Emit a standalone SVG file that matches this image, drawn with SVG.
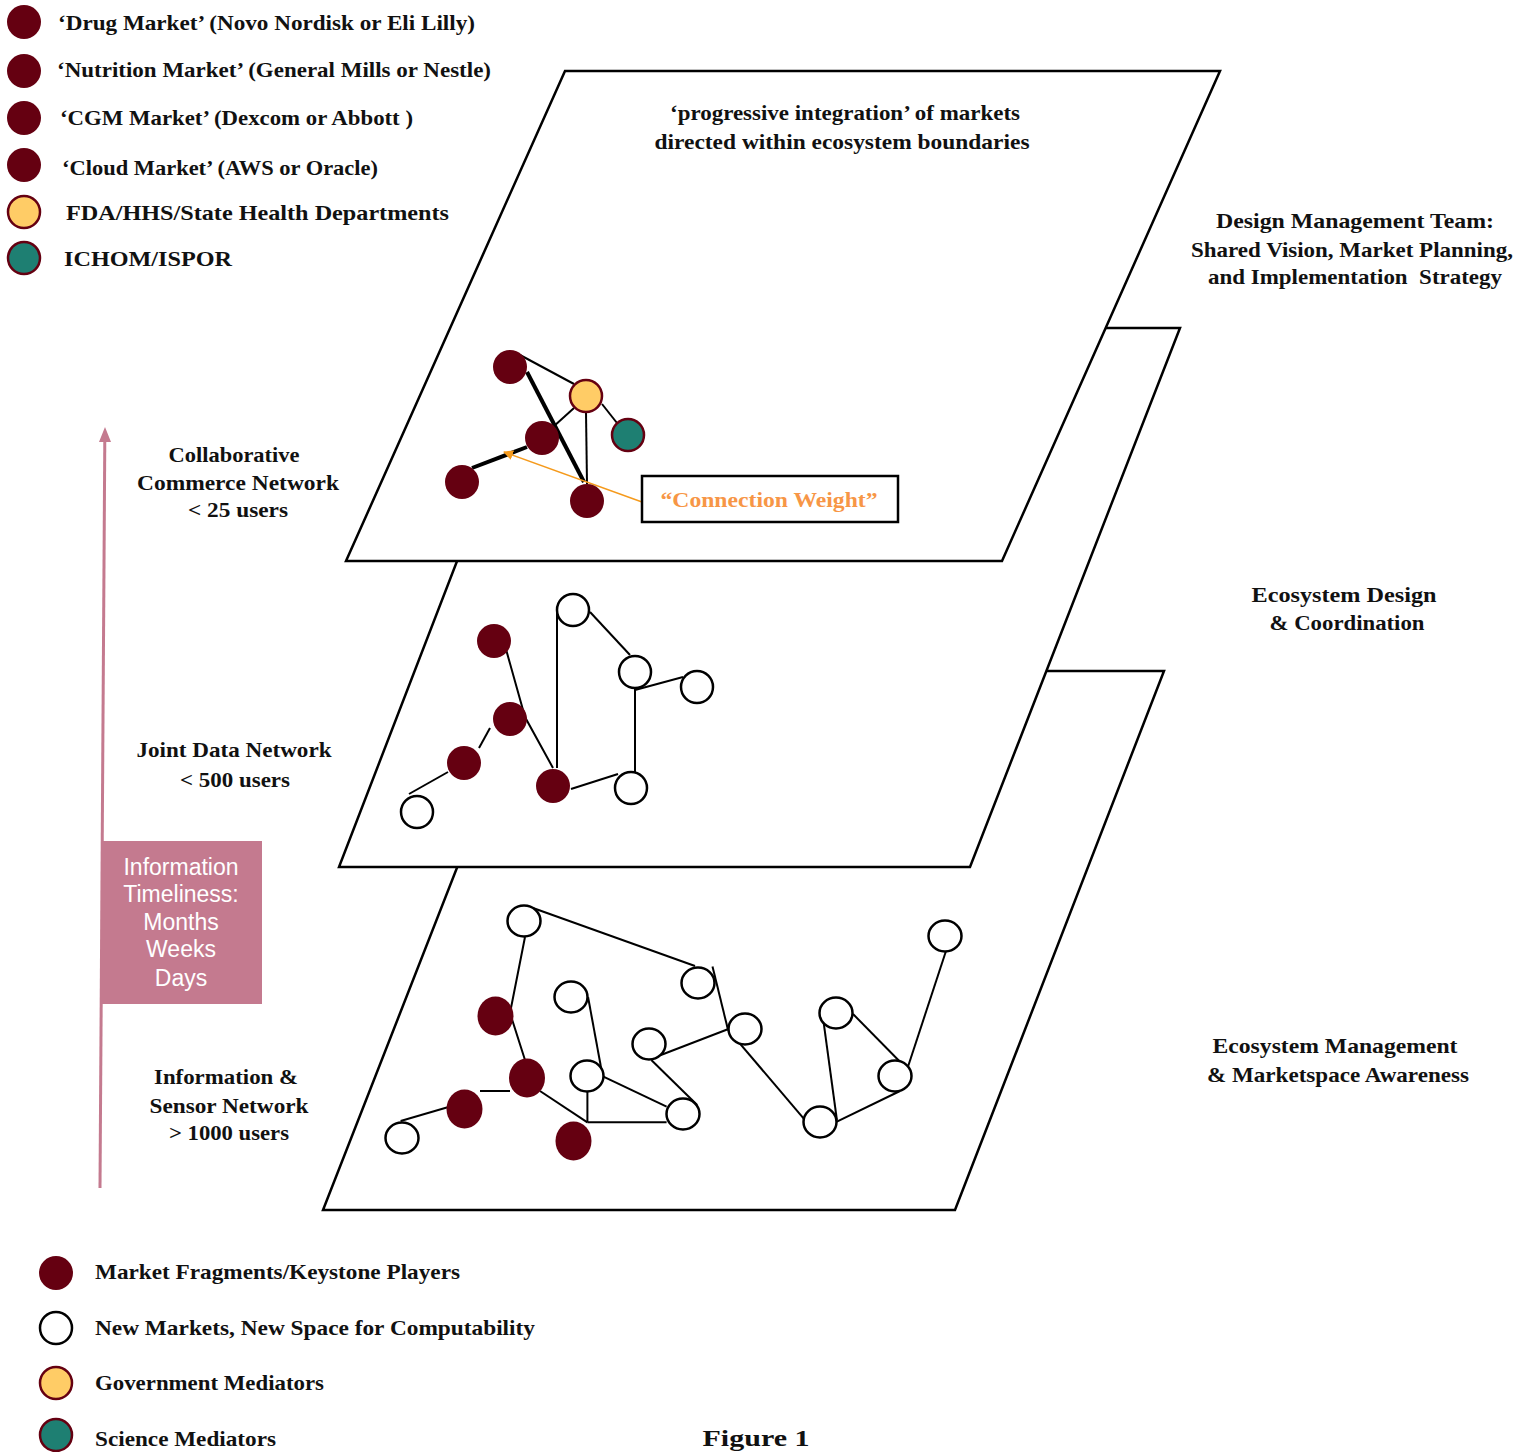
<svg xmlns="http://www.w3.org/2000/svg" width="1531" height="1452" viewBox="0 0 1531 1452">
<style>
.t{font-family:"Liberation Serif","Times New Roman",serif;font-weight:bold;font-size:21px;fill:#111}
.c{text-anchor:middle}
.plane{fill:#fff;stroke:#000;stroke-width:2.5;stroke-linejoin:miter}
.e{stroke:#000;stroke-width:2;fill:none}
.ew{stroke:#000;stroke-width:4;fill:none}
.red{fill:#650011}
.wht{fill:#fff;stroke:#000;stroke-width:2.5}
.yel{fill:#ffcc66;stroke:#650011;stroke-width:2.5}
.tea{fill:#1e7f72;stroke:#650011;stroke-width:2.5}
.pk{font-family:"Liberation Sans",Arial,sans-serif;font-size:23px;fill:#fff;text-anchor:middle}
</style>
<defs>
<marker id="oarr" markerWidth="10" markerHeight="10" refX="9" refY="5" orient="auto" markerUnits="userSpaceOnUse" viewBox="0 0 10 10">
<path d="M0,0 L10,5 L0,10 z" fill="#f59a1c"/>
</marker>
</defs>
<rect width="1531" height="1452" fill="#fff"/>

<!-- planes -->
<g id="planes">
<polygon id="plane-bottom" class="plane" points="534,671 1164,671 955,1210 323,1210"/>
<polygon id="plane-middle" class="plane" points="547,328 1180,328 970,867 339,867"/>
<polygon id="plane-top" class="plane" points="565,71 1220,71 1002,561 346,561"/>
</g>

<!-- top legend -->
<g id="legend-top">
<circle cx="24" cy="22" r="17" class="red"/>
<text class="t" x="58" y="30" textLength="417" lengthAdjust="spacingAndGlyphs">‘Drug Market’ (Novo Nordisk or Eli Lilly)</text>
<circle cx="24" cy="71" r="17" class="red"/>
<text class="t" x="57" y="77" textLength="434" lengthAdjust="spacingAndGlyphs">‘Nutrition Market’ (General Mills or Nestle)</text>
<circle cx="24" cy="118" r="17" class="red"/>
<text class="t" x="60" y="125" textLength="353" lengthAdjust="spacingAndGlyphs">‘CGM Market’ (Dexcom or Abbott )</text>
<circle cx="24" cy="165" r="17" class="red"/>
<text class="t" x="62" y="175" textLength="316" lengthAdjust="spacingAndGlyphs">‘Cloud Market’ (AWS or Oracle)</text>
<circle cx="24" cy="212" r="16" class="yel"/>
<text class="t" x="66" y="220" textLength="383" lengthAdjust="spacingAndGlyphs">FDA/HHS/State Health Departments</text>
<circle cx="24" cy="258" r="16" class="tea"/>
<text class="t" x="64" y="266" textLength="168" lengthAdjust="spacingAndGlyphs">ICHOM/ISPOR</text>
</g>

<!-- labels -->
<g id="labels">
<text class="t c" x="845" y="120" textLength="350" lengthAdjust="spacingAndGlyphs">‘progressive integration’ of markets</text>
<text class="t c" x="842" y="149" textLength="375" lengthAdjust="spacingAndGlyphs">directed within ecosystem boundaries</text>
<text class="t c" x="1355" y="228" textLength="278" lengthAdjust="spacingAndGlyphs">Design Management Team:</text>
<text class="t c" x="1352" y="257" textLength="322" lengthAdjust="spacingAndGlyphs">Shared Vision, Market Planning,</text>
<text class="t c" x="1355" y="284" textLength="294" lengthAdjust="spacingAndGlyphs" style="white-space:pre">and Implementation  Strategy</text>
<text class="t c" x="1344" y="602" textLength="185" lengthAdjust="spacingAndGlyphs">Ecosystem Design</text>
<text class="t c" x="1347" y="630" textLength="155" lengthAdjust="spacingAndGlyphs">&amp; Coordination</text>
<text class="t c" x="1335" y="1053" textLength="245" lengthAdjust="spacingAndGlyphs">Ecosystem Management</text>
<text class="t c" x="1338" y="1082" textLength="262" lengthAdjust="spacingAndGlyphs">&amp; Marketspace Awareness</text>
<text class="t c" x="234" y="462" textLength="131" lengthAdjust="spacingAndGlyphs">Collaborative</text>
<text class="t c" x="238" y="490" textLength="202" lengthAdjust="spacingAndGlyphs">Commerce Network</text>
<text class="t c" x="238" y="517" textLength="100" lengthAdjust="spacingAndGlyphs">&lt; 25 users</text>
<text class="t c" x="234" y="757" textLength="195" lengthAdjust="spacingAndGlyphs">Joint Data Network</text>
<text class="t c" x="235" y="787" textLength="110" lengthAdjust="spacingAndGlyphs">&lt; 500 users</text>
<text class="t c" x="226" y="1084" textLength="144" lengthAdjust="spacingAndGlyphs">Information &amp;</text>
<text class="t c" x="229" y="1113" textLength="159" lengthAdjust="spacingAndGlyphs">Sensor Network</text>
<text class="t c" x="229" y="1140" textLength="120" lengthAdjust="spacingAndGlyphs">&gt; 1000 users</text>
</g>

<!-- timeliness arrow and box -->
<g id="timeliness">
<line x1="100" y1="1188" x2="104.8" y2="440" stroke="#c47a8f" stroke-width="3"/>
<polygon points="105,427 111,442 99,442" fill="#c47a8f"/>
<rect x="101" y="841" width="161" height="163" fill="#c47a8f"/>
<text class="pk" x="181" y="875">Information</text>
<text class="pk" x="181" y="902">Timeliness:</text>
<text class="pk" x="181" y="930">Months</text>
<text class="pk" x="181" y="957">Weeks</text>
<text class="pk" x="181" y="986">Days</text>
</g>

<!-- connectors -->
<g id="connectors">
<!-- top -->
<line class="e" x1="520" y1="355" x2="574" y2="384"/>
<line class="ew" x1="527" y1="372" x2="584" y2="482"/>
<line class="e" x1="553" y1="427" x2="574" y2="408"/>
<line class="e" x1="586" y1="412" x2="587" y2="484"/>
<line class="e" x1="602" y1="404" x2="617" y2="423"/>
<line class="ew" x1="472" y1="468" x2="527" y2="447"/>
<line x1="642" y1="502" x2="504" y2="452" stroke="#f59a1c" stroke-width="1.5" marker-end="url(#oarr)"/>
<!-- middle -->
<polyline class="e" points="502,635 525,717 553,768"/>
<line class="e" x1="490" y1="728" x2="479" y2="748"/>
<line class="e" x1="448" y1="772" x2="409" y2="794"/>
<line class="e" x1="557" y1="610" x2="557" y2="768"/>
<line class="e" x1="590" y1="612" x2="630" y2="655"/>
<line class="e" x1="635" y1="690" x2="683" y2="677"/>
<line class="e" x1="635" y1="687" x2="635" y2="780"/>
<line class="e" x1="571" y1="789" x2="618" y2="774"/>
<!-- bottom -->
<line class="e" x1="533" y1="908" x2="695" y2="966"/>
<line class="e" x1="712.5" y1="966.5" x2="727.8" y2="1029"/>
<polyline class="e" points="525,937 510,1013 525,1060"/>
<line class="e" x1="480" y1="1091" x2="510" y2="1091"/>
<line class="e" x1="448.5" y1="1107" x2="400.6" y2="1121"/>
<line class="e" x1="540" y1="1091" x2="587.4" y2="1122.3"/>
<line class="e" x1="587.4" y1="1091.7" x2="587.4" y2="1122.3"/>
<line class="e" x1="587.4" y1="1122.3" x2="666.6" y2="1122.3"/>
<line class="e" x1="603.4" y1="1076.7" x2="666.6" y2="1106.7"/>
<line class="e" x1="588.1" y1="997.3" x2="601.5" y2="1070"/>
<line class="e" x1="651.3" y1="1060" x2="697.2" y2="1105"/>
<line class="e" x1="660.9" y1="1055" x2="727.8" y2="1029.3"/>
<line class="e" x1="727.8" y1="1029.3" x2="806.3" y2="1121.7"/>
<line class="e" x1="836.9" y1="1120" x2="822.4" y2="1013.3"/>
<line class="e" x1="853" y1="1014" x2="900" y2="1061.7"/>
<line class="e" x1="836.9" y1="1121.7" x2="900" y2="1091"/>
<line class="e" x1="946" y1="951" x2="900" y2="1091"/>
</g>

<!-- nodes: top plane -->
<g id="node-top-a"><circle cx="510" cy="367" r="17" class="red"/></g>
<g id="node-top-gov"><circle cx="586" cy="396" r="16" class="yel"/></g>
<g id="node-top-sci"><circle cx="628" cy="435" r="16" class="tea"/></g>
<g id="node-top-b"><circle cx="542" cy="438" r="17" class="red"/></g>
<g id="node-top-c"><circle cx="462" cy="482" r="17" class="red"/></g>
<g id="node-top-d"><circle cx="587" cy="501" r="17" class="red"/></g>
<g id="connection-weight">
<rect x="642" y="476" width="256" height="46" fill="#fff" stroke="#000" stroke-width="2.5"/>
<text class="t c" x="769" y="507" style="fill:#f79646" textLength="217" lengthAdjust="spacingAndGlyphs">“Connection Weight”</text>
</g>

<!-- nodes: middle plane -->
<g id="node-mid-r1"><circle cx="494" cy="641" r="17" class="red"/></g>
<g id="node-mid-r2"><circle cx="510" cy="719" r="17" class="red"/></g>
<g id="node-mid-r3"><circle cx="464" cy="763" r="17" class="red"/></g>
<g id="node-mid-r4"><circle cx="553" cy="786" r="17" class="red"/></g>
<g id="node-mid-w1"><circle cx="573" cy="610" r="16" class="wht"/></g>
<g id="node-mid-w2"><circle cx="635" cy="672" r="16" class="wht"/></g>
<g id="node-mid-w3"><circle cx="697" cy="687" r="16" class="wht"/></g>
<g id="node-mid-w4"><circle cx="631" cy="788" r="16" class="wht"/></g>
<g id="node-mid-w5"><circle cx="417" cy="812" r="16" class="wht"/></g>

<!-- nodes: bottom plane -->
<g id="node-bot-w1"><ellipse cx="524" cy="921" rx="16.5" ry="15.5" class="wht"/></g>
<g id="node-bot-w2"><ellipse cx="698" cy="983" rx="16.5" ry="15.5" class="wht"/></g>
<g id="node-bot-w3"><ellipse cx="571" cy="997" rx="16.5" ry="15.5" class="wht"/></g>
<g id="node-bot-w4"><ellipse cx="745" cy="1029" rx="16.5" ry="15.5" class="wht"/></g>
<g id="node-bot-w5"><ellipse cx="649" cy="1044" rx="16.5" ry="15.5" class="wht"/></g>
<g id="node-bot-w6"><ellipse cx="587" cy="1076" rx="16.5" ry="15.5" class="wht"/></g>
<g id="node-bot-w7"><ellipse cx="683" cy="1114" rx="16.5" ry="15.5" class="wht"/></g>
<g id="node-bot-w8"><ellipse cx="402" cy="1138" rx="16.5" ry="15.5" class="wht"/></g>
<g id="node-bot-w9"><ellipse cx="836" cy="1013" rx="16.5" ry="15.5" class="wht"/></g>
<g id="node-bot-w10"><ellipse cx="895" cy="1076" rx="16.5" ry="15.5" class="wht"/></g>
<g id="node-bot-w11"><ellipse cx="820" cy="1122" rx="16.5" ry="15.5" class="wht"/></g>
<g id="node-bot-w12"><ellipse cx="945" cy="936" rx="16.5" ry="15.5" class="wht"/></g>
<g id="node-bot-r1"><ellipse cx="495.5" cy="1016" rx="18" ry="19.5" class="red"/></g>
<g id="node-bot-r2"><ellipse cx="527" cy="1078" rx="18" ry="19.5" class="red"/></g>
<g id="node-bot-r3"><ellipse cx="464.5" cy="1109" rx="18" ry="19.5" class="red"/></g>
<g id="node-bot-r4"><ellipse cx="573.5" cy="1141" rx="18" ry="19.5" class="red"/></g>

<!-- bottom legend -->
<g id="legend-bottom">
<circle cx="56" cy="1273" r="17" class="red"/>
<text class="t" x="95" y="1279" textLength="365" lengthAdjust="spacingAndGlyphs">Market Fragments/Keystone Players</text>
<circle cx="56" cy="1328" r="16" class="wht"/>
<text class="t" x="95" y="1335" textLength="440" lengthAdjust="spacingAndGlyphs">New Markets, New Space for Computability</text>
<circle cx="56" cy="1383" r="16" class="yel"/>
<text class="t" x="95" y="1390" textLength="229" lengthAdjust="spacingAndGlyphs">Government Mediators</text>
<circle cx="56" cy="1435" r="16" class="tea"/>
<text class="t" x="95" y="1446" textLength="181" lengthAdjust="spacingAndGlyphs">Science Mediators</text>
</g>

<text class="t c" x="756" y="1446" style="font-size:24px" textLength="107" lengthAdjust="spacingAndGlyphs">Figure 1</text>
</svg>
